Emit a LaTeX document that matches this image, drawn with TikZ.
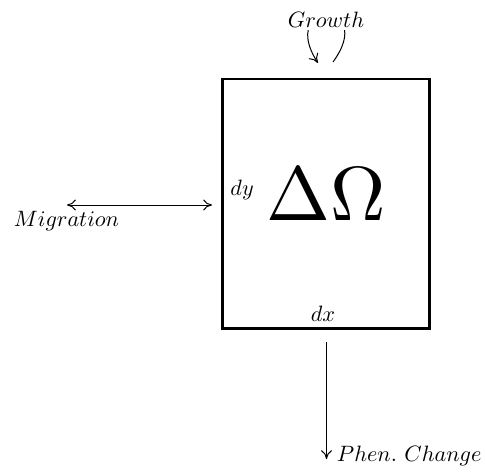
\documentclass[tikz,border=0pt]{standalone}
\usepackage{graphicx}
\usetikzlibrary{arrows.meta}
\begin{document}
\begin{tikzpicture}[x=0.45pt,y=-0.45pt,
  lbl/.style={inner sep=0pt},
  thinarrow/.style={line width=0.45pt,-{To[length=4pt,width=5pt]}},
  boxline/.style={line width=1.1pt}]
\useasboundingbox (0,0) rectangle (485,474);
% box
\coordinate (tl) at (222.5,79);
\coordinate (br) at (429.5,328.5);
\draw[boxline] (tl) rectangle (br);
% growth loop
\coordinate (gs) at (333,62);
\coordinate (ge) at (318,63);
\draw[thinarrow] (gs) .. controls (378,0) and (277,0) .. (ge);
\node[lbl,fill=white,inner sep=0.8pt,anchor=base] (growth) at (326,28) {$Growth$};
% migration
\coordinate (ml) at (67,205);
\coordinate (mr) at (212,205);
\draw[line width=0.45pt,{To[length=4pt,width=5pt]}-{To[length=4pt,width=5pt]}] (ml) -- (mr);
\node[lbl,anchor=base] (mig) at (66.5,226) {$Migration$};
% labels inside box
\node[lbl,anchor=base west] (dy) at (230,195) {$dy$};
\node[inner sep=0pt,anchor=base] (dO) at (326,220) {\scalebox{3.45}{$\Delta\Omega$}};
\node[lbl,anchor=base] (dx) at (323,321.7) {$dx$};
% phen change
\coordinate (ps) at (326.5,342);
\coordinate (pe) at (326.5,459);
\draw[thinarrow] (ps) -- (pe);
\node[lbl,anchor=base west] (phen) at (336.5,461.7) {$Phen.\ Change$};
\end{tikzpicture}
\end{document}
